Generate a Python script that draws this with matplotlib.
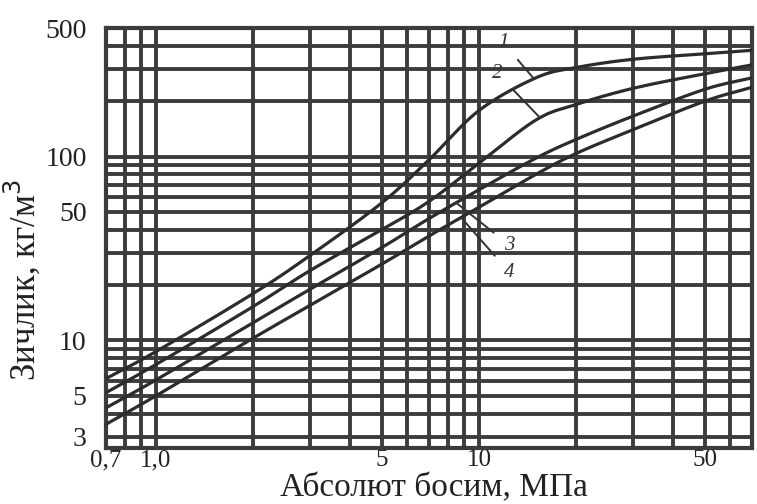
import numpy as np
import matplotlib
matplotlib.use("Agg")
import matplotlib.pyplot as plt

# Absolute pressure, MPa
pressure = [0.7, 1.0, 2.0, 3.0, 5.0, 7.0, 10.0, 15.0, 20.0, 30.0, 50.0, 70.0]
# Gas density, kg/m3, for four gas compositions
density_1 = [6.2, 8.7, 18.0, 29.0, 56.0, 96.0, 178.0, 268.0, 305.0, 338.0, 362.0, 378.0]
density_2 = [5.2, 7.4, 15.3, 24.0, 40.0, 57.0, 92.0, 158.0, 192.0, 235.0, 282.0, 315.0]
density_3 = [4.3, 6.1, 12.5, 19.0, 32.0, 46.0, 66.0, 98.0, 124.0, 166.0, 232.0, 268.0]
density_4 = [3.5, 5.0, 10.3, 15.5, 26.0, 37.0, 53.0, 80.0, 104.0, 140.0, 200.0, 238.0]
curve_names = ["1", "2", "3", "4"]

x_ticks = [0.7, 1.0, 5.0, 10.0, 50.0]
x_tick_labels = ["0,7", "1,0", "5", "10", "50"]
y_ticks = [3, 5, 10, 50, 100, 500]
y_tick_labels = ["3", "5", "10", "50", "100", "500"]

x_grid = [0.7, 0.8, 0.9, 1, 2, 3, 4, 5, 6, 7, 8, 9, 10, 20, 30, 40, 50, 60, 70]
y_grid = [3, 4, 5, 6, 7, 8, 9, 10, 20, 30, 40, 50, 60, 70, 80, 90, 100,
          200, 300, 400, 500]

ink = "#3c3c3c"
serif = ["Liberation Serif", "DejaVu Serif"]


def smooth_loglog(xs, ys, n=24):
    """Catmull-Rom spline through the points in log-log space."""
    lx, ly = np.log10(xs), np.log10(ys)
    px = np.concatenate([[2 * lx[0] - lx[1]], lx, [2 * lx[-1] - lx[-2]]])
    py = np.concatenate([[2 * ly[0] - ly[1]], ly, [2 * ly[-1] - ly[-2]]])
    out_x, out_y = [], []
    t = np.linspace(0, 1, n, endpoint=False)
    for i in range(1, len(px) - 2):
        for arr, out in ((px, out_x), (py, out_y)):
            p0, p1, p2, p3 = arr[i - 1], arr[i], arr[i + 1], arr[i + 2]
            out.append(0.5 * (2 * p1 + (-p0 + p2) * t
                              + (2 * p0 - 5 * p1 + 4 * p2 - p3) * t ** 2
                              + (-p0 + 3 * p1 - 3 * p2 + p3) * t ** 3))
    out_x.append([lx[-1]])
    out_y.append([ly[-1]])
    return 10 ** np.concatenate(out_x), 10 ** np.concatenate(out_y)


fig = plt.figure(figsize=(7.57, 5.04), dpi=100)
ax = fig.add_axes([106 / 757, 1 - 448 / 504, 646 / 757, 420 / 504])
ax.set_xscale("log")
ax.set_yscale("log")
ax.set_xlim(0.7, 70)
ax.set_ylim(2.6, 500)

for gx in x_grid:
    ax.axvline(gx, color=ink, lw=2.8, zorder=1)
for gy in y_grid:
    ax.axhline(gy, color=ink, lw=2.8, zorder=1)

curves = [density_1, density_2, density_3, density_4]
for rho in curves:
    sx, sy = smooth_loglog(pressure, rho)
    ax.plot(sx, sy, color="#2c2c2c", lw=2.3, zorder=3)


def on_curve(rho, p):
    """Density of a curve at pressure p (log-log interpolation)."""
    return 10 ** np.interp(np.log10(p), np.log10(pressure), np.log10(rho))


# curve labels with leader lines
label_specs = [
    (density_1, 14.8, (11.9, 415)),
    (density_2, 15.5, (11.4, 283)),
    (density_3, 8.5, (12.4, 33)),
    (density_4, 8.8, (12.4, 23.5)),
]
for name, (rho, p_tip, txt) in zip(curve_names, label_specs):
    ax.annotate(name, xy=(p_tip, on_curve(rho, p_tip)), xytext=txt,
                textcoords="data", fontsize=15, fontstyle="italic",
                family=serif, ha="center", va="center", color="#333333",
                arrowprops=dict(arrowstyle="-", color="#333333", lw=1.4,
                                shrinkA=7, shrinkB=0),
                zorder=4)

for s in ax.spines.values():
    s.set_color(ink)
    s.set_linewidth(3.0)

ax.set_xticks(x_ticks)
ax.set_xticklabels(x_tick_labels)
ax.set_yticks(y_ticks)
ax.set_yticklabels(y_tick_labels)
ax.xaxis.set_minor_locator(matplotlib.ticker.NullLocator())
ax.yaxis.set_minor_locator(matplotlib.ticker.NullLocator())
ax.tick_params(axis="y", length=0, pad=14, labelsize=20, colors="#222222")
ax.tick_params(axis="x", length=0, pad=1, labelsize=18, colors="#222222")
for lab in ax.get_xticklabels() + ax.get_yticklabels():
    lab.set_family(serif)

fig.text(434 / 757, 1 - 488 / 504, "Абсолют босим, МПа", fontsize=24,
         family=serif, color="#222222", ha="center", va="center")
fig.text(22 / 757, 1 - 280 / 504, "Зичлик, кг/м$^3$", fontsize=25,
         family=serif, color="#222222", ha="center", va="center",
         rotation=90)

fig.savefig("out.png", dpi=100)
